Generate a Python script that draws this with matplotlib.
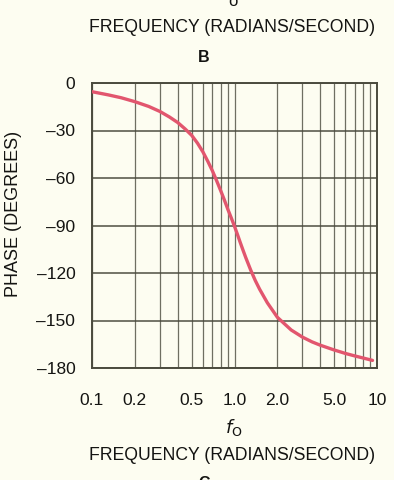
import numpy as np
import matplotlib.pyplot as plt
from matplotlib.ticker import FixedLocator, NullFormatter

# ── DATA: phase curve ────────────────────────────────────────
freq = [0.1, 0.13, 0.16, 0.2, 0.25, 0.3, 0.35, 0.4, 0.45, 0.5, 0.55, 0.6,
        0.65, 0.7, 0.75, 0.8, 0.85, 0.9, 0.95, 1.0, 1.05, 1.1, 1.15, 1.2,
        1.3, 1.4, 1.5, 1.7, 2.0, 2.5, 3.0, 3.5, 4.0, 5.0, 6.0, 7.0, 8.0, 9.3]
phase = [-5.5, -7.5, -9.3, -11.8, -14.8, -18, -21.5, -25, -29, -33, -38, -43.5,
         -49.5, -55.5, -61.8, -68, -74, -80, -85.3, -90.5, -95.8, -101, -105.8,
         -110.3, -118.2, -124.8, -130.2, -138.8, -148, -156, -160.5, -163.5,
         -165.6, -168.6, -170.8, -172.4, -173.7, -175.2]

xtick_vals = [0.1, 0.2, 0.5, 1.0, 2.0, 5.0, 10]
xtick_labels = ["0.1", "0.2", "0.5", "1.0", "2.0", "5.0", "10"]
ytick_vals = [0, -30, -60, -90, -120, -150, -180]

bg = "#fdfdf1"
ink = "#141412"
grid_col = "#4b4b3e"
curve_col = "#e2566e"

plt.rcParams['font.family'] = ['Liberation Sans', 'DejaVu Sans']

fig = plt.figure(figsize=(3.94, 4.80), dpi=100, facecolor=bg)
ax = fig.add_axes([92 / 394, 1 - 368 / 480, 285 / 394, 285 / 480])
ax.set_facecolor(bg)

ax.plot(freq, phase, color=curve_col, lw=2.4, solid_capstyle='round',
        solid_joinstyle='round', zorder=3)

ax.set_xscale('log')
ax.set_xlim(0.1, 10)
ax.set_ylim(-180, 0)

minor = [m * d for d in (0.1, 1.0) for m in range(2, 10)]
ax.xaxis.set_major_locator(FixedLocator(xtick_vals))
ax.xaxis.set_minor_locator(FixedLocator(minor))
ax.xaxis.set_minor_formatter(NullFormatter())
ax.set_xticklabels(xtick_labels)
ax.set_yticks(ytick_vals)
ax.set_yticklabels([f"{v}".replace("-", "\u2013") for v in ytick_vals])

ax.grid(True, which='both', axis='x', color=grid_col, lw=0.9, alpha=0.8)
ax.grid(True, which='major', axis='y', color=grid_col, lw=1.2, alpha=0.9)
ax.tick_params(which='both', length=0, colors=ink, labelsize=12.5)
ax.tick_params(axis='x', pad=18)
ax.tick_params(axis='y', pad=12)
for s in ax.spines.values():
    s.set_color(grid_col)
    s.set_linewidth(1.4)

ax.set_ylabel("PHASE (DEGREES)", fontsize=13, color=ink)
ax.yaxis.set_label_coords(22 / 394, 1 - 214 / 480, transform=fig.transFigure)

# text above and below the panel (scanned page layout)
fig.text(233 / 394, 1 - 1 / 480, "o", ha='center', va='center', fontsize=12, color=ink)
fig.text(232 / 394, 1 - 27 / 480, "FREQUENCY (RADIANS/SECOND)", ha='center', va='center',
         fontsize=12.7, color=ink)
fig.text(204 / 394, 1 - 58 / 480, "B", ha='center', va='center', fontsize=11.5,
         fontweight='bold', color=ink)
fig.text(234 / 394, 1 - 428 / 480, r"$f_{\mathrm{O}}$", ha='center', va='center',
         fontsize=13, color=ink)
fig.text(232 / 394, 1 - 455 / 480, "FREQUENCY (RADIANS/SECOND)", ha='center', va='center',
         fontsize=12.7, color=ink)
fig.text(204 / 394, 1 - 483 / 480, "C", ha='center', va='center', fontsize=11.5,
         fontweight='bold', color=ink)

fig.savefig("out.png", dpi=100, facecolor=bg)
